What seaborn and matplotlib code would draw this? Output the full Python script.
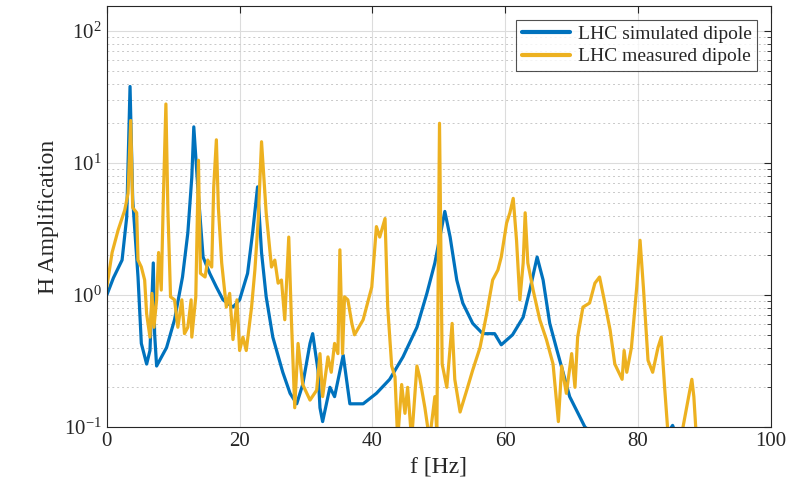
import matplotlib
matplotlib.use("Agg")
import matplotlib.pyplot as plt
import seaborn as sns
import pandas as pd
from matplotlib.ticker import LogLocator, LogFormatterSciNotation, MultipleLocator, NullFormatter

# simulated dipole (frequency in Hz, amplification)
sim_f = [0, 1.0, 2.3, 3.0, 3.5, 3.9, 4.7, 5.2, 6.0, 6.5, 7.0, 7.2, 7.5, 9.0, 10.2,
         11.4, 12.2, 12.8, 13.1, 13.7, 14.5, 15.5, 16.5, 17.5, 19.0, 20.0, 21.2,
         22.0, 22.7, 23.3, 24.0, 25.0, 26.5, 27.6, 28.6, 29.5, 30.6, 31.0, 31.8,
         32.1, 32.5, 33.6, 34.3, 35.6, 36.6, 38.6, 40.6, 42.6, 44.6, 46.7, 48.2,
         49.4, 50.3, 50.9, 51.7, 52.7, 53.6, 55.1, 56.6, 58.4, 59.4, 61.1, 62.7,
         63.7, 64.8, 65.7, 66.7, 67.8, 68.7, 69.7, 72.0, 78.0, 84.5, 85.2, 86.0, 88.0]
sim_h = [1.0, 1.35, 1.84, 3.9, 38.0, 5.3, 1.37, 0.43, 0.30, 0.38, 1.75, 0.51, 0.29, 0.40, 0.65,
         1.37, 2.95, 7.8, 18.8, 6.6, 1.94, 1.46, 1.15, 0.92, 0.81, 0.92, 1.46,
         3.1, 6.6, 2.1, 0.97, 0.48, 0.26, 0.18, 0.15, 0.21, 0.43, 0.51, 0.27,
         0.14, 0.11, 0.2, 0.17, 0.35, 0.15, 0.15, 0.18, 0.23, 0.34, 0.57, 1.03,
         1.75, 3.0, 4.3, 2.75, 1.3, 0.87, 0.61, 0.51, 0.51, 0.42, 0.50, 0.68,
         1.09, 1.94, 1.3, 0.61, 0.38, 0.26, 0.17, 0.1, 0.06, 0.09, 0.103, 0.08, 0.06]

# measured dipole
meas_f = [0, 0.8, 1.7, 2.7, 3.2, 3.6, 3.9, 4.5, 4.7, 5.2, 5.7, 6.0, 6.5, 6.8, 7.1, 7.5,
          7.8, 8.2, 8.5, 8.9, 9.2, 9.6, 10.2, 10.7, 11.3, 11.7, 12.2, 12.7, 12.8,
          13.4, 13.8, 14.1, 14.8, 15.2, 15.8, 16.1, 16.5, 16.8, 17.3, 18.0, 18.5,
          19.0, 19.6, 20.0, 20.5, 21.0, 21.8, 22.3, 22.8, 23.3, 24.0, 24.8, 25.3,
          25.8, 26.3, 26.8, 27.4, 27.8, 28.3, 28.8, 29.5, 30.6, 31.6, 32.1, 32.5,
          33.3, 33.8, 34.3, 34.8, 35.1, 35.5, 35.8, 36.3, 36.9, 37.3, 38.6, 39.9,
          40.6, 41.1, 41.9, 42.3, 42.9, 43.4, 43.8, 44.4, 44.9, 45.3, 45.9, 46.7,
          47.1, 47.9, 48.6, 49.4, 49.7, 50.1, 50.5, 51.2, 52.0, 52.4, 53.2, 54.2,
          55.1, 56.2, 57.2, 58.1, 58.9, 59.4, 60.2, 60.7, 61.2, 61.7, 62.2, 62.7,
          63.0, 63.4, 64.2, 65.2, 66.2, 67.2, 68.0, 68.5, 69.2, 70.0, 70.5, 70.9,
          71.7, 72.7, 73.5, 74.2, 75.0, 75.8, 76.5, 77.6, 77.9, 78.3, 79.0, 79.8,
          80.3, 80.8, 81.5, 82.2, 83.0, 83.5, 84.0, 84.5, 85.5, 86.6, 87.3, 88.1,
          88.4, 88.8]
meas_h = [1.15, 2.1, 3.1, 4.4, 5.9, 21.0, 4.6, 4.2, 1.84, 1.63, 1.3, 0.72, 0.48, 1.03, 0.57, 0.92,
          2.1, 1.09, 5.0, 28.0, 4.4, 0.97, 0.92, 0.57, 0.92, 0.51, 0.57, 0.92, 0.48,
          0.97, 10.5, 1.46, 1.37, 1.84, 1.63, 6.6, 15.0, 4.6, 1.75, 0.81, 1.03,
          0.46, 0.92, 0.38, 0.48, 0.38, 0.81, 1.55, 3.7, 14.5, 4.2, 1.63, 1.84,
          1.23, 1.3, 0.65, 2.75, 0.65, 0.14, 0.43, 0.21, 0.16, 0.19, 0.36, 0.17,
          0.34, 0.26, 0.43, 0.36, 2.2, 0.36, 0.97, 0.92, 0.61, 0.5, 0.65, 1.15,
          3.3, 2.75, 3.8, 0.81, 0.29, 0.24, 0.08, 0.21, 0.127, 0.2, 0.08, 0.29,
          0.24, 0.14, 0.08, 0.17, 0.09, 20.0, 0.3, 0.2, 0.61, 0.23, 0.13, 0.19,
          0.27, 0.4, 0.72, 1.3, 1.55, 1.94, 3.5, 4.2, 5.4, 2.6, 0.92, 1.75,
          4.2, 1.75, 1.09, 0.65, 0.46, 0.3, 0.11, 0.29, 0.18, 0.36, 0.2, 0.48,
          0.81, 0.87, 1.23, 1.37, 0.87, 0.54, 0.3, 0.23, 0.38, 0.26, 0.4, 1.15,
          2.6, 1.15, 0.32, 0.26, 0.4, 0.48, 0.2, 0.09, 0.07, 0.09, 0.14, 0.23,
          0.17, 0.08]

labels = ["LHC simulated dipole", "LHC measured dipole"]
colors = ["#0072BD", "#EDB120"]

df = pd.concat([
    pd.DataFrame({"f": sim_f, "H": sim_h, "series": labels[0]}),
    pd.DataFrame({"f": meas_f, "H": meas_h, "series": labels[1]}),
], ignore_index=True)

sns.set_style("white")
plt.rcParams["font.family"] = ["Liberation Serif", "DejaVu Serif"]
plt.rcParams["mathtext.fontset"] = "stix"

fig = plt.figure(figsize=(8.03, 4.92), dpi=100)
ax = fig.add_axes([0.133, 0.132, 0.827, 0.856])

sns.lineplot(data=df, x="f", y="H", hue="series", palette=colors,
             estimator=None, sort=False, linewidth=2.3, ax=ax)

ax.set_yscale("log")
ax.set_xlim(0, 100)
ax.set_ylim(0.1, 155)
ax.xaxis.set_major_locator(MultipleLocator(20))
ax.yaxis.set_major_locator(LogLocator(base=10, numticks=10))
ax.yaxis.set_major_formatter(LogFormatterSciNotation())
ax.yaxis.set_minor_locator(LogLocator(base=10, subs=range(2, 10), numticks=20))
ax.yaxis.set_minor_formatter(NullFormatter())

# matlab-like grid: light solid majors, dotted y minors
ax.grid(True, which="major", color="#dcdcdc", linewidth=0.8)
ax.grid(True, which="minor", axis="y", color="#c8c8c8", linestyle=(0, (2, 3)), linewidth=0.7)
ax.set_axisbelow(True)

ax.tick_params(which="both", direction="in", top=True, right=True, labelsize=15, colors="#262626")
ax.tick_params(which="major", length=5)
ax.tick_params(which="minor", length=3)
for s in ax.spines.values():
    s.set_color("#262626")
    s.set_linewidth(0.8)

ax.set_xlabel("f [Hz]", fontsize=17, color="#262626")
ax.set_ylabel("H Amplification", fontsize=17, color="#262626")

leg = ax.legend(loc="upper right", fontsize=14, frameon=True, fancybox=False,
                edgecolor="#262626", borderaxespad=0.7, handlelength=2.45,
                borderpad=0.3, labelspacing=0.25, handletextpad=0.4)
leg.get_frame().set_linewidth(0.8)
for line in leg.get_lines():
    line.set_linewidth(3)

fig.savefig("out.png", dpi=100)
